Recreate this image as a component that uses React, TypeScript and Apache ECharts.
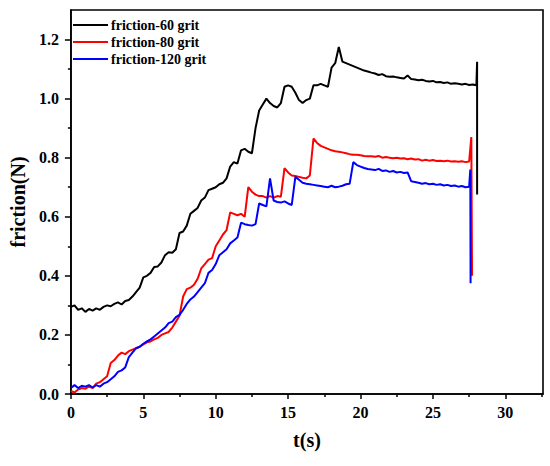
import React, { useEffect, useRef } from "react";
import * as echarts from "echarts";

// sampling times (s), every 0.25 s from 0 to 27.5
const T: number[] = Array.from({ length: 111 }, (_, i) => i * 0.25);

const BLACK: number[] = [
  0.295, 0.3, 0.285, 0.29, 0.278, 0.288, 0.282, 0.29, 0.285, 0.295,
  0.3, 0.297, 0.305, 0.31, 0.303, 0.315, 0.318, 0.33, 0.345, 0.36,
  0.395, 0.4, 0.41, 0.43, 0.432, 0.445, 0.47, 0.48, 0.478, 0.49,
  0.545, 0.55, 0.57, 0.61, 0.62, 0.63, 0.655, 0.665, 0.69, 0.695,
  0.7, 0.71, 0.715, 0.73, 0.77, 0.785, 0.78, 0.825, 0.83, 0.82,
  0.815, 0.9, 0.96, 0.98, 1.0, 0.985, 0.975, 0.97, 0.985, 1.04,
  1.045, 1.04, 1.02, 0.995, 0.985, 0.995, 1.0, 1.045, 1.045, 1.05,
  1.045, 1.04, 1.105, 1.12, 1.175, 1.125, 1.12, 1.115, 1.11, 1.105,
  1.1, 1.095, 1.092, 1.088, 1.085, 1.08, 1.083, 1.076, 1.074, 1.075,
  1.072, 1.07, 1.068, 1.078, 1.066, 1.065, 1.062, 1.064, 1.06, 1.058,
  1.06, 1.055, 1.056, 1.053, 1.055, 1.05, 1.052, 1.05, 1.048, 1.05,
  1.046,
];
const BLACK_TAIL_T: number[] = [27.75, 28.0, 28.05, 28.05];
const BLACK_TAIL_V: number[] = [1.048, 1.045, 1.125, 0.675];

const RED: number[] = [
  0.01, 0.005, 0.015, 0.02, 0.018, 0.025, 0.02, 0.035, 0.04, 0.05,
  0.06, 0.105, 0.115, 0.13, 0.14, 0.135, 0.145, 0.15, 0.155, 0.16,
  0.168, 0.175, 0.178, 0.185, 0.19, 0.2, 0.205, 0.21, 0.225, 0.245,
  0.265, 0.33, 0.355, 0.36, 0.37, 0.39, 0.425, 0.44, 0.455, 0.46,
  0.5, 0.52, 0.54, 0.555, 0.615, 0.61, 0.605, 0.61, 0.6, 0.7,
  0.685, 0.675, 0.67, 0.67, 0.665, 0.67, 0.665, 0.67, 0.668, 0.765,
  0.75, 0.74, 0.738, 0.735, 0.732, 0.73, 0.74, 0.865, 0.85, 0.84,
  0.835, 0.83, 0.825, 0.822, 0.82, 0.818, 0.815, 0.812, 0.81, 0.81,
  0.808, 0.806, 0.805, 0.805, 0.803, 0.806, 0.8, 0.802, 0.8, 0.798,
  0.8, 0.797, 0.798, 0.795, 0.797, 0.794, 0.795, 0.79, 0.793, 0.79,
  0.792, 0.789, 0.79, 0.788, 0.79, 0.787, 0.788, 0.786, 0.788, 0.785,
  0.787,
];
const RED_TAIL_T: number[] = [27.65, 27.7];
const RED_TAIL_V: number[] = [0.87, 0.4];

const BLUE: number[] = [
  0.02, 0.03, 0.02, 0.028, 0.025, 0.03, 0.022, 0.03, 0.025, 0.035,
  0.04, 0.05, 0.06, 0.075, 0.08, 0.09, 0.125, 0.14, 0.155, 0.16,
  0.17, 0.178, 0.185, 0.195, 0.205, 0.215, 0.225, 0.24, 0.245, 0.26,
  0.268, 0.285, 0.305, 0.32, 0.33, 0.345, 0.36, 0.375, 0.41, 0.42,
  0.44, 0.47, 0.48, 0.49, 0.51, 0.52, 0.53, 0.58, 0.575, 0.572,
  0.57, 0.575, 0.645, 0.64, 0.635, 0.73, 0.655, 0.65, 0.648, 0.652,
  0.645, 0.64, 0.735, 0.725, 0.715, 0.712, 0.71, 0.708, 0.706, 0.704,
  0.702, 0.7, 0.705, 0.7, 0.702, 0.705, 0.71, 0.712, 0.785, 0.775,
  0.77, 0.765, 0.762, 0.76, 0.758, 0.762, 0.755, 0.757, 0.752, 0.755,
  0.75, 0.752, 0.748, 0.75, 0.72, 0.718, 0.715, 0.712, 0.714, 0.71,
  0.712, 0.708, 0.71, 0.706, 0.708, 0.704, 0.706, 0.702, 0.704, 0.7,
  0.702,
];
const BLUE_TAIL_T: number[] = [27.58, 27.6];
const BLUE_TAIL_V: number[] = [0.76, 0.375];

const SERIES_NAMES = ["friction-60 grit", "friction-80 grit", "friction-120 grit"];
const SERIES_COLORS = ["#000000", "#ff0000", "#0000ff"];
const X_MAJOR = [0, 5, 10, 15, 20, 25, 30];
const X_MINOR = [2.5, 7.5, 12.5, 17.5, 22.5, 27.5, 32.5];
const Y_MAJOR = [0, 0.2, 0.4, 0.6, 0.8, 1.0, 1.2];
const Y_MINOR = [0.1, 0.3, 0.5, 0.7, 0.9, 1.1];

const FONT = "'Times New Roman', 'Liberation Serif', serif";

function pairs(t: number[], v: number[], tt: number[], tv: number[]) {
  const out: number[][] = t.map((x, i) => [x, v[i]]);
  tt.forEach((x, i) => out.push([x, tv[i]]));
  return out;
}

export default function App() {
  const ref = useRef<HTMLDivElement>(null);
  useEffect(() => {
    if (!ref.current) return;
    const chart = echarts.init(ref.current, undefined, { renderer: "svg" });
    const axisLine = { lineStyle: { color: "#000", width: 1.6 } };
    const data = [
      pairs(T, BLACK, BLACK_TAIL_T, BLACK_TAIL_V),
      pairs(T, RED, RED_TAIL_T, RED_TAIL_V),
      pairs(T, BLUE, BLUE_TAIL_T, BLUE_TAIL_V),
    ];
    chart.setOption({
      animation: false,
      backgroundColor: "#fff",
      grid: { left: 67, right: 7, top: 10, bottom: 72, show: true, borderColor: "#000", borderWidth: 1.6 },
      legend: {
        data: SERIES_NAMES,
        orient: "vertical",
        left: 68,
        top: 13,
        icon: "rect",
        itemWidth: 35,
        itemHeight: 2,
        itemGap: 3,
        textStyle: { fontFamily: FONT, fontWeight: "bold", fontSize: 14, color: "#000", padding: [0, 0, 0, -2] },
      },
      xAxis: [
        {
          type: "value",
          min: 0,
          max: 32.6,
          name: "t(s)",
          nameLocation: "middle",
          nameGap: 36,
          nameTextStyle: { fontFamily: FONT, fontWeight: "bold", fontSize: 20, color: "#000" },
          axisLine,
          axisTick: { show: true, customValues: X_MAJOR, length: 5, lineStyle: { color: "#000", width: 1.5 } },
          axisLabel: { customValues: X_MAJOR, margin: 10, fontFamily: FONT, fontWeight: "bold", fontSize: 16, color: "#000" },
          splitLine: { show: false },
        },
        {
          type: "value",
          min: 0,
          max: 32.6,
          position: "bottom",
          axisLine: { show: false },
          axisTick: { show: true, customValues: X_MINOR, length: 3, lineStyle: { color: "#000", width: 1.5 } },
          axisLabel: { show: false },
          splitLine: { show: false },
        },
      ],
      yAxis: [
        {
          type: "value",
          min: 0,
          max: 1.3,
          name: "friction(N)",
          nameLocation: "middle",
          nameGap: 34,
          nameTextStyle: { fontFamily: FONT, fontWeight: "bold", fontSize: 20, color: "#000" },
          axisLine,
          axisTick: { show: true, customValues: Y_MAJOR, length: 6, lineStyle: { color: "#000", width: 1.5 } },
          axisLabel: {
            customValues: Y_MAJOR,
            margin: 12,
            formatter: (v: number) => v.toFixed(1),
            fontFamily: FONT,
            fontWeight: "bold",
            fontSize: 16,
            color: "#000",
          },
          splitLine: { show: false },
        },
        {
          type: "value",
          min: 0,
          max: 1.3,
          position: "left",
          axisLine: { show: false },
          axisTick: { show: true, customValues: Y_MINOR, length: 3, lineStyle: { color: "#000", width: 1.5 } },
          axisLabel: { show: false },
          splitLine: { show: false },
        },
      ],
      series: SERIES_NAMES.map((name, i) => ({
        name,
        type: "line",
        symbol: "none",
        data: data[i],
        lineStyle: { color: SERIES_COLORS[i], width: 2 },
        itemStyle: { color: SERIES_COLORS[i] },
      })),
    });
    return () => chart.dispose();
  }, []);
  return (
    <div
      ref={ref}
      style={{ position: "fixed", left: 0, top: 0, width: 550, height: 466, background: "#fff" }}
    />
  );
}
